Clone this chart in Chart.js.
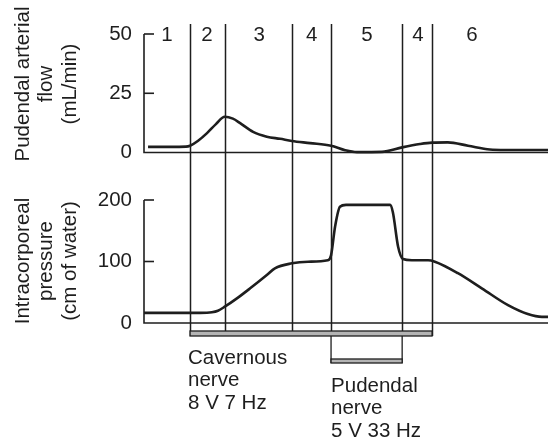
<!DOCTYPE html>
<html>
<head>
<meta charset="utf-8">
<script src="https://cdn.jsdelivr.net/npm/chart.js@4/dist/chart.umd.min.js"></script>
<style>
  html, body { margin: 0; padding: 0; background: #fff; }
  #wrap { width: 550px; height: 439px; }
</style>
</head>
<body>
<div id="wrap"><canvas id="chart" width="550" height="439"></canvas></div>
<script>
// time axis is arbitrary units (0..100 across the trace)
const flowTime = [1.0, 6.4, 10.4, 11.4, 13.4, 15.6, 17.8, 20.0, 22.0, 23.8, 27.0, 30.4, 33.7, 36.6, 41.1, 46.3, 49.8, 52.7, 58.9, 63.9, 68.3, 71.3, 75.2, 80.2, 85.6, 89.4, 100];
const flowValues = [2.4, 2.4, 2.5, 2.9, 5.0, 8.2, 12.0, 15.1, 14.3, 12.4, 8.7, 6.7, 5.8, 4.9, 4.0, 2.9, 1.0, 0.2, 0.3, 2.2, 3.6, 4.2, 4.3, 2.9, 1.3, 1.1, 1.1];

const pressureTime = [0, 13.9, 16.8, 18.3, 20.0, 23.0, 26.2, 30.4, 32.4, 36.6, 40.6, 45.5, 46.3, 47.3, 48.5, 50.0, 60.9, 61.6, 62.9, 64.1, 66.3, 70.3, 72.0, 77.7, 83.7, 90.1, 95.0, 98.5, 100];
const pressureValues = [16.5, 16.5, 17.5, 20, 26.5, 40, 56, 78, 89, 97, 99.7, 102, 110, 157, 189, 192, 192, 180, 124, 104, 102, 102, 99.7, 81, 56, 29, 14.6, 10, 10];

const phaseBounds = [11.4, 20.0, 36.6, 46.3, 63.9, 71.3];
const phaseLabels = ['1', '2', '3', '4', '5', '4', '6'];
const phaseLabelTime = [5.7, 15.6, 28.5, 41.5, 55.2, 67.8, 81.2];

const flowTicks = [0, 25, 50];
const pressureTicks = [0, 100, 200];

const cavernousStim = [11.4, 71.3];
const pudendalStim = [46.3, 63.9];

const flowTitle = ['Pudendal arterial', 'flow', '(mL/min)'];
const pressureTitle = ['Intracorporeal', 'pressure', '(cm of water)'];
const cavernousText = ['Cavernous', 'nerve', '8 V 7 Hz'];
const pudendalText = ['Pudendal', 'nerve', '5 V 33 Hz'];

const INK = '#1e1e1e';
const FONT = '20.5px "Liberation Sans", Arial, sans-serif';

const toPoints = (xs, ys) => xs.map((x, i) => ({ x: x, y: ys[i] }));

// axes frames, phase separators, stimulus bars and labels
const framePlugin = {
  id: 'frame',
  beforeDatasetsDraw(chart) {
    const ctx = chart.ctx;
    const area = chart.chartArea;
    const x = chart.scales.x;
    const yF = chart.scales.yFlow;
    const yP = chart.scales.yPres;
    ctx.save();
    ctx.strokeStyle = INK;
    ctx.lineCap = 'butt';

    // axis lines, inward ticks, baselines
    [[yF, flowTicks], [yP, pressureTicks]].forEach(([s, ticks]) => {
      const top = s.getPixelForValue(ticks[ticks.length - 1]);
      const zero = s.getPixelForValue(0);
      ctx.lineWidth = 1.6;
      ctx.beginPath();
      ctx.moveTo(area.left, top);
      ctx.lineTo(area.left, zero);
      ctx.lineTo(area.right, zero);
      ctx.stroke();
      ticks.forEach(v => {
        if (v === 0) return;
        const py = s.getPixelForValue(v);
        ctx.beginPath();
        ctx.moveTo(area.left, py);
        ctx.lineTo(area.left + 10, py);
        ctx.stroke();
      });
    });

    const lineTop = yF.getPixelForValue(50) - 10;
    const barTop = yP.getPixelForValue(0) + 8;
    const barBottom = barTop + 5;

    // phase separators
    ctx.lineWidth = 1.5;
    phaseBounds.forEach(t => {
      const px = Math.round(x.getPixelForValue(t)) + 0.5;
      ctx.beginPath();
      ctx.moveTo(px, lineTop);
      ctx.lineTo(px, barBottom);
      ctx.stroke();
    });

    // cavernous nerve stimulation bar
    const c0 = x.getPixelForValue(cavernousStim[0]);
    const c1 = x.getPixelForValue(cavernousStim[1]);
    ctx.fillStyle = '#b4b4b4';
    ctx.fillRect(c0, barTop, c1 - c0, barBottom - barTop);
    ctx.lineWidth = 1.3;
    ctx.strokeRect(c0, barTop, c1 - c0, barBottom - barTop);

    // pudendal nerve stimulation bracket
    const p0 = x.getPixelForValue(pudendalStim[0]);
    const p1 = x.getPixelForValue(pudendalStim[1]);
    const pBarTop = barBottom + 23;
    const pBarBottom = pBarTop + 4;
    ctx.beginPath();
    ctx.moveTo(p0, barBottom);
    ctx.lineTo(p0, pBarBottom);
    ctx.moveTo(p1, barBottom);
    ctx.lineTo(p1, pBarBottom);
    ctx.stroke();
    ctx.fillRect(p0, pBarTop, p1 - p0, pBarBottom - pBarTop);
    ctx.strokeRect(p0, pBarTop, p1 - p0, pBarBottom - pBarTop);
    ctx.restore();
  },
  afterDraw(chart) {
    const ctx = chart.ctx;
    const x = chart.scales.x;
    const yF = chart.scales.yFlow;
    const yP = chart.scales.yPres;
    ctx.save();
    ctx.fillStyle = INK;
    ctx.font = FONT;

    // phase numbers
    ctx.textAlign = 'center';
    ctx.textBaseline = 'middle';
    const numY = yF.getPixelForValue(50);
    phaseLabels.forEach((lab, i) => {
      ctx.fillText(lab, x.getPixelForValue(phaseLabelTime[i]), numY + 1);
    });

    // stimulus captions
    ctx.textAlign = 'left';
    const capY = yP.getPixelForValue(0) + 35;
    cavernousText.forEach((s, i) => {
      ctx.fillText(s, x.getPixelForValue(cavernousStim[0]) - 2, capY + i * 22.5);
    });
    pudendalText.forEach((s, i) => {
      ctx.fillText(s, x.getPixelForValue(pudendalStim[0]), capY + 28 + i * 22.5);
    });

    // rotated axis titles
    const drawTitle = (lines, cy) => {
      lines.forEach((s, i) => {
        ctx.save();
        ctx.translate(23 + i * 23.5, cy);
        ctx.rotate(-Math.PI / 2);
        ctx.textAlign = 'center';
        ctx.textBaseline = 'middle';
        ctx.fillText(s, 0, 0);
        ctx.restore();
      });
    };
    drawTitle(flowTitle, 84);
    drawTitle(pressureTitle, 261);
    ctx.restore();
  }
};

const tickFont = { family: '"Liberation Sans", Arial, sans-serif', size: 20.5 };

new Chart(document.getElementById('chart'), {
  type: 'line',
  data: {
    datasets: [
      {
        label: 'Pudendal arterial flow',
        data: toPoints(flowTime, flowValues),
        yAxisID: 'yFlow',
        borderColor: INK,
        borderWidth: 2.6,
        pointRadius: 0,
        cubicInterpolationMode: 'monotone',
        fill: false
      },
      {
        label: 'Intracorporeal pressure',
        data: toPoints(pressureTime, pressureValues),
        yAxisID: 'yPres',
        borderColor: INK,
        borderWidth: 2.6,
        pointRadius: 0,
        cubicInterpolationMode: 'monotone',
        fill: false
      }
    ]
  },
  options: {
    responsive: false,
    animation: false,
    devicePixelRatio: 1,
    layout: { padding: { left: 0, top: 34, right: 2, bottom: 116 } },
    plugins: {
      legend: { display: false },
      tooltip: { enabled: false }
    },
    scales: {
      x: { type: 'linear', min: 0, max: 100, display: false },
      // stacked left axes are placed bottom-up in definition order
      yPres: {
        type: 'linear',
        position: 'left',
        stack: 'panels',
        stackWeight: 123,
        min: 0,
        max: 200,
        grid: { display: false, drawTicks: false },
        border: { display: false },
        ticks: { padding: 12, color: INK, font: tickFont },
        afterBuildTicks: s => { s.ticks = pressureTicks.map(v => ({ value: v })); },
        afterFit: s => { s.width = 144; }
      },
      yFlow: {
        type: 'linear',
        position: 'left',
        stack: 'panels',
        stackWeight: 166,
        min: -20,
        max: 50,
        grid: { display: false, drawTicks: false },
        border: { display: false },
        ticks: { padding: 12, color: INK, font: tickFont },
        afterBuildTicks: s => { s.ticks = flowTicks.map(v => ({ value: v })); },
        afterFit: s => { s.width = 144; }
      }
    }
  },
  plugins: [framePlugin]
});
</script>
</body>
</html>
